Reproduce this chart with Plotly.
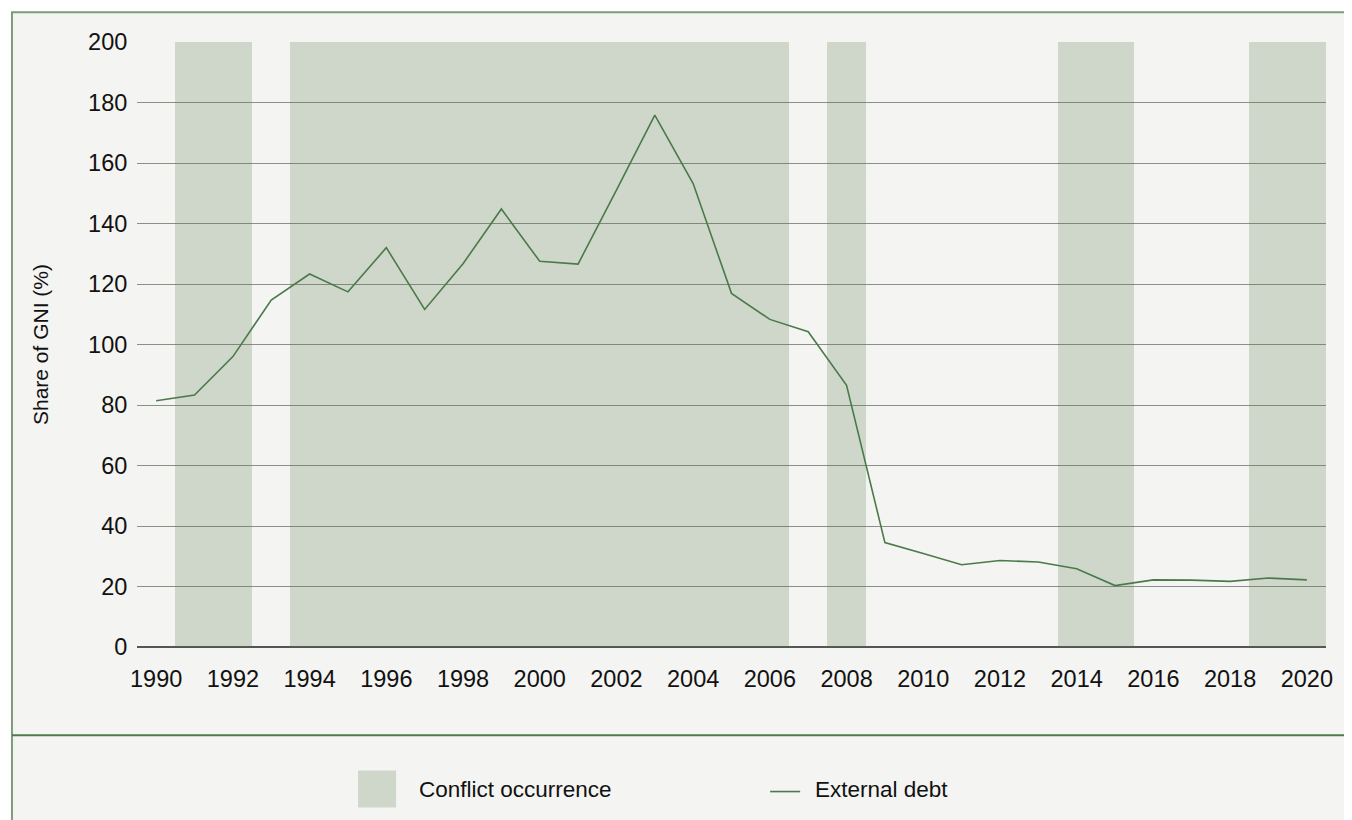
import plotly.graph_objects as go

# ---- data ----
years = list(range(1990, 2021))
external_debt = [81.4, 83.3, 96.0, 114.7, 123.3, 117.4, 132.0, 111.6, 126.7, 144.8,
                 127.5, 126.6, 151.0, 175.8, 153.2, 116.9, 108.3, 104.2, 86.5, 34.5,
                 30.9, 27.2, 28.6, 28.1, 25.9, 20.3, 22.2, 22.1, 21.7, 22.8, 22.2]
conflict_years = [1991, 1992, 1994, 1995, 1996, 1997, 1998, 1999, 2000, 2001, 2002,
                  2003, 2004, 2005, 2006, 2008, 2014, 2015, 2019, 2020]
conflict_flag = [1] * len(conflict_years)
x_tick_vals = list(range(1990, 2021, 2))
y_tick_vals = list(range(0, 201, 20))

# ---- style ----
W, H = 1352, 820
OFF = 8  # page body margin
PL, PR, PT, PB = 137 - OFF, 1325.7 - OFF, 41.7 - OFF, 647.3 - OFF   # plot area (figure px)
BG = "#F4F4F2"
BAND = "rgba(80,120,70,0.23)"
LINE = "#4B7A4A"
FONT = "Liberation Sans, Arial, sans-serif"


def px_x(p):
    return (p - OFF - PL) / (PR - PL)


def px_y(p):
    return (PB - (p - OFF)) / (PB - PT)


fig = go.Figure()

fig.add_trace(go.Bar(
    x=conflict_years, y=conflict_flag, width=1.0,
    marker=dict(color=BAND, line=dict(width=0)),
    name="Conflict occurrence", showlegend=False, yaxis="y",
    hoverinfo="x",
))

fig.add_trace(go.Scatter(
    x=years, y=external_debt, mode="lines",
    line=dict(color=LINE, width=1.6),
    name="External debt", showlegend=False, yaxis="y2",
))

shapes = [
    # outer panel
    dict(type="rect", xref="paper", yref="paper",
         x0=px_x(12), x1=px_x(1400), y0=px_y(900), y1=px_y(12),
         fillcolor=BG, line=dict(color="#7E9C7B", width=2), layer="below"),
    # separator
    dict(type="line", xref="paper", yref="paper",
         x0=px_x(12), x1=px_x(1400), y0=px_y(735.7), y1=px_y(735.7),
         line=dict(color="#4F7A4C", width=2)),
    # legend swatch
    dict(type="rect", xref="paper", yref="paper",
         x0=px_x(358), x1=px_x(396), y0=px_y(808), y1=px_y(771),
         fillcolor="#CFD7CB", line=dict(width=0)),
    # legend line
    dict(type="line", xref="paper", yref="paper",
         x0=px_x(770), x1=px_x(800), y0=px_y(792), y1=px_y(792),
         line=dict(color=LINE, width=1.6)),
]

annotations = [
    dict(text="Conflict occurrence", xref="paper", yref="paper",
         x=px_x(417), y=px_y(790), xanchor="left", yanchor="middle",
         showarrow=False, font=dict(family=FONT, size=22.5, color="#111")),
    dict(text="External debt", xref="paper", yref="paper",
         x=px_x(813), y=px_y(790), xanchor="left", yanchor="middle",
         showarrow=False, font=dict(family=FONT, size=22.5, color="#111")),
]

fig.update_layout(
    width=W, height=H,
    paper_bgcolor="white", plot_bgcolor=BG,
    margin=dict(l=PL, r=W - PR, t=PT, b=H - PB, pad=0),
    font=dict(family=FONT, size=22, color="#111"),
    bargap=0,
    showlegend=False,
    shapes=shapes,
    annotations=annotations,
    xaxis=dict(
        range=[1989.5, 2020.5], tickvals=x_tick_vals,
        showgrid=False, zeroline=False, showline=False,
        ticks="outside", ticklen=11, tickcolor="rgba(0,0,0,0)",
        tickfont=dict(size=23.5),
    ),
    yaxis=dict(
        range=[0, 1], visible=False, showgrid=False, zeroline=False,
    ),
    yaxis2=dict(
        overlaying="y", side="left", range=[0, 200], tickvals=y_tick_vals,
        showgrid=True, gridcolor="#8C8E8A", gridwidth=1,
        zeroline=True, zerolinecolor="#555555", zerolinewidth=1.6,
        showline=False,
        ticks="outside", ticklen=4, tickcolor="rgba(0,0,0,0)",
        tickfont=dict(size=23.5),
        title=dict(text="Share of GNI (%)", standoff=33,
                   font=dict(size=21)),
    ),
)

fig.write_html("out.html")
